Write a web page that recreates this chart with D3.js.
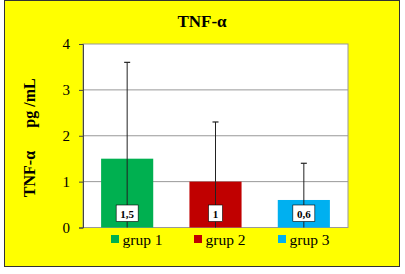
<!DOCTYPE html>
<html>
<head>
<meta charset="utf-8">
<script src="https://cdn.jsdelivr.net/npm/d3@7"></script>
<style>
  body { margin: 0; background: #fff; }
  text { font-family: "Liberation Serif", "Times New Roman", serif; }
</style>
</head>
<body>
<div id="chart"></div>
<script>
const groups = ["grup 1", "grup 2", "grup 3"];
const values = [1.5, 1, 0.6];
const errors = [2.1, 1.3, 0.8];
const valueLabels = ["1,5", "1", "0,6"];
const colors = ["#00b050", "#c00000", "#00b0f0"];
const yTicks = [0, 1, 2, 3, 4];

const W = 405, H = 274;
const plot = { left: 83, right: 348, top: 44, bottom: 227.5 };

const svg = d3.select("#chart").append("svg")
  .attr("width", W).attr("height", H);

// yellow frame
svg.append("rect")
  .attr("x", 4.5).attr("y", 0.5).attr("width", 395).attr("height", 266)
  .attr("fill", "#ffff00").attr("stroke", "#333").attr("stroke-width", 1);

svg.append("text")
  .attr("x", 202).attr("y", 27)
  .attr("text-anchor", "middle")
  .attr("font-size", 17).attr("font-weight", "bold")
  .text("TNF-α");

const x = d3.scaleBand()
  .domain(groups)
  .range([plot.left, plot.right])
  .paddingInner(0.41).paddingOuter(0.205);

const y = d3.scaleLinear()
  .domain([0, 4])
  .range([plot.bottom, plot.top]);

svg.append("rect")
  .attr("x", plot.left).attr("y", plot.top)
  .attr("width", plot.right - plot.left).attr("height", plot.bottom - plot.top)
  .attr("fill", "#fff");

// gridlines
svg.append("g").selectAll("line")
  .data(yTicks.filter(d => d > 0 && d < 4))
  .enter().append("line")
  .attr("x1", plot.left).attr("x2", plot.right)
  .attr("y1", d => y(d)).attr("y2", d => y(d))
  .attr("stroke", "#999").attr("stroke-width", 1);

svg.append("rect")
  .attr("x", plot.left).attr("y", plot.top)
  .attr("width", plot.right - plot.left).attr("height", plot.bottom - plot.top)
  .attr("fill", "none").attr("stroke", "#999").attr("stroke-width", 1);

// y axis
const yAxis = svg.append("g")
  .attr("transform", `translate(${plot.left},0)`)
  .call(d3.axisLeft(y).tickValues(yTicks).tickFormat(d3.format("d"))
    .tickSize(4).tickPadding(9));
yAxis.select(".domain").attr("stroke", "#444");
yAxis.selectAll(".tick line").attr("stroke", "#444");
yAxis.selectAll("text")
  .attr("font-family", "Liberation Serif, serif")
  .attr("font-size", 15).attr("fill", "#000");

// bars
svg.append("g").selectAll("rect")
  .data(groups)
  .enter().append("rect")
  .attr("x", d => x(d))
  .attr("y", (d, i) => y(values[i]))
  .attr("width", x.bandwidth())
  .attr("height", (d, i) => y(0) - y(values[i]))
  .attr("fill", (d, i) => colors[i]);

// error bars
const eb = svg.append("g");
groups.forEach((g, i) => {
  const cx = x(g) + x.bandwidth() / 2;
  const lo = Math.max(0, values[i] - errors[i]);
  const hi = values[i] + errors[i];
  eb.append("line")
    .attr("x1", cx).attr("x2", cx)
    .attr("y1", y(lo)).attr("y2", y(hi))
    .attr("stroke", "#222").attr("stroke-width", 1);
  eb.append("line")
    .attr("x1", cx - 3).attr("x2", cx + 3)
    .attr("y1", y(hi)).attr("y2", y(hi))
    .attr("stroke", "#222").attr("stroke-width", 1.2);
});

// value labels
const lab = svg.append("g");
groups.forEach((g, i) => {
  const cx = x(g) + x.bandwidth() / 2;
  const w = valueLabels[i].length > 1 ? 22 : 14;
  lab.append("rect")
    .attr("x", cx - w / 2).attr("y", 205)
    .attr("width", w).attr("height", 16.5)
    .attr("fill", "#fff").attr("stroke", "#000").attr("stroke-width", 0.6);
  lab.append("text")
    .attr("x", cx).attr("y", 217.5)
    .attr("text-anchor", "middle")
    .attr("font-size", 11).attr("font-weight", "bold")
    .text(valueLabels[i]);
});

// y title
svg.append("text")
  .attr("transform", "translate(35,174) rotate(-90)")
  .attr("text-anchor", "middle")
  .attr("font-size", 16).attr("font-weight", "bold")
  .text("TNF-α");
svg.append("text")
  .attr("transform", "translate(35,103) rotate(-90)")
  .attr("text-anchor", "middle")
  .attr("font-size", 16).attr("font-weight", "bold")
  .text("pg /mL");

// legend
const legX = [111, 194, 278];
const leg = svg.append("g");
groups.forEach((g, i) => {
  leg.append("rect")
    .attr("x", legX[i]).attr("y", 235)
    .attr("width", 8).attr("height", 8)
    .attr("fill", colors[i]);
  leg.append("text")
    .attr("x", legX[i] + 11.5).attr("y", 245)
    .attr("font-size", 15.5)
    .text(g);
});
</script>
</body>
</html>
